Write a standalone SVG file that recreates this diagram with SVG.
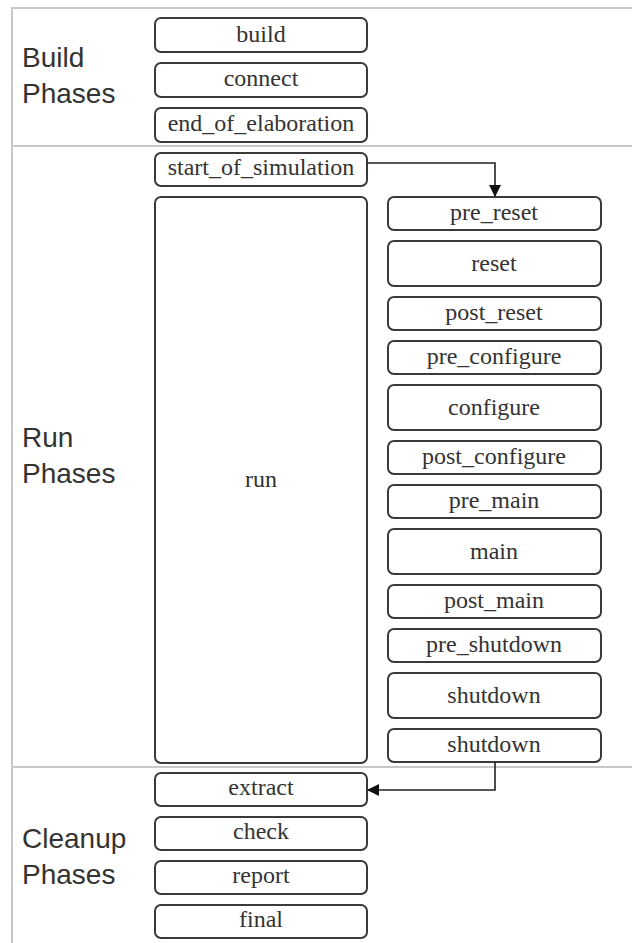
<svg xmlns="http://www.w3.org/2000/svg" width="632" height="943" viewBox="0 0 632 943">
  <style>
    .frame { fill: none; stroke: #c8c8c8; stroke-width: 2; }
    .box rect { fill: #ffffff; stroke: #3a3a3a; stroke-width: 2; }
    .box text { font-family: 'Liberation Serif', 'Times New Roman', serif; font-size: 24px; fill: #333333; text-anchor: middle; }
    .group-label { font-family: 'Liberation Sans', Arial, sans-serif; font-size: 28px; fill: #333333; }
    .conn { fill: none; stroke: #222222; stroke-width: 1.6; }
  </style>
  <defs>
    <marker id="arrow" viewBox="0 0 12 12" refX="11" refY="6" markerWidth="12" markerHeight="12" markerUnits="userSpaceOnUse" orient="auto">
      <path d="M0,0 L12,6 L0,12 Z" fill="#111111"/>
    </marker>
  </defs>

  <rect width="632" height="943" fill="#ffffff"/>

  <!-- section frame and separators -->
  <g id="frame">
    <line class="frame" x1="11" y1="8" x2="632" y2="8"/>
    <line class="frame" x1="12" y1="8" x2="12" y2="943"/>
    <line class="frame" x1="11" y1="146" x2="632" y2="146"/>
    <line class="frame" x1="11" y1="767" x2="632" y2="767"/>
  </g>

  <!-- section titles -->
  <g id="labels">
    <text class="group-label" x="22" y="67">Build</text>
    <text class="group-label" x="22" y="103">Phases</text>
    <text class="group-label" x="22" y="447">Run</text>
    <text class="group-label" x="22" y="483">Phases</text>
    <text class="group-label" x="22" y="848">Cleanup</text>
    <text class="group-label" x="22" y="884">Phases</text>
  </g>

  <!-- build phases -->
  <g id="build" class="box"><rect x="155" y="18" width="212" height="34" rx="6"/><text x="261" y="42">build</text></g>
  <g id="connect" class="box"><rect x="155" y="63" width="212" height="34" rx="6"/><text x="261" y="86">connect</text></g>
  <g id="end_of_elaboration" class="box"><rect x="155" y="108" width="212" height="34" rx="6"/><text x="261" y="131">end_of_elaboration</text></g>

  <!-- run phases -->
  <g id="start_of_simulation" class="box"><rect x="155" y="153" width="212" height="33" rx="6"/><text x="261" y="175">start_of_simulation</text></g>
  <g id="run" class="box"><rect x="155" y="197" width="212" height="566" rx="6"/><text x="261" y="487">run</text></g>

  <g id="pre_reset" class="box"><rect x="388" y="197" width="213" height="33" rx="6"/><text x="494" y="220">pre_reset</text></g>
  <g id="reset" class="box"><rect x="388" y="241" width="213" height="45" rx="6"/><text x="494" y="271">reset</text></g>
  <g id="post_reset" class="box"><rect x="388" y="297" width="213" height="33" rx="6"/><text x="494" y="320">post_reset</text></g>
  <g id="pre_configure" class="box"><rect x="388" y="341" width="213" height="33" rx="6"/><text x="494" y="364">pre_configure</text></g>
  <g id="configure" class="box"><rect x="388" y="385" width="213" height="45" rx="6"/><text x="494" y="415">configure</text></g>
  <g id="post_configure" class="box"><rect x="388" y="441" width="213" height="33" rx="6"/><text x="494" y="464">post_configure</text></g>
  <g id="pre_main" class="box"><rect x="388" y="485" width="213" height="33" rx="6"/><text x="494" y="508">pre_main</text></g>
  <g id="main" class="box"><rect x="388" y="529" width="213" height="45" rx="6"/><text x="494" y="559">main</text></g>
  <g id="post_main" class="box"><rect x="388" y="585" width="213" height="33" rx="6"/><text x="494" y="608">post_main</text></g>
  <g id="pre_shutdown" class="box"><rect x="388" y="629" width="213" height="33" rx="6"/><text x="494" y="652">pre_shutdown</text></g>
  <g id="shutdown" class="box"><rect x="388" y="673" width="213" height="45" rx="6"/><text x="494" y="703">shutdown</text></g>
  <g id="post_shutdown" class="box"><rect x="388" y="729" width="213" height="33" rx="6"/><text x="494" y="752">shutdown</text></g>

  <!-- cleanup phases -->
  <g id="extract" class="box"><rect x="155" y="773" width="212" height="33" rx="6"/><text x="261" y="795">extract</text></g>
  <g id="check" class="box"><rect x="155" y="817" width="212" height="33" rx="6"/><text x="261" y="839">check</text></g>
  <g id="report" class="box"><rect x="155" y="861" width="212" height="33" rx="6"/><text x="261" y="883">report</text></g>
  <g id="final" class="box"><rect x="155" y="905" width="212" height="33" rx="6"/><text x="261" y="927">final</text></g>

  <!-- connectors -->
  <g id="connectors">
    <polyline class="conn" points="367,163 495,163 495,196" marker-end="url(#arrow)"/>
    <polyline class="conn" points="495,762 495,790 368,790" marker-end="url(#arrow)"/>
  </g>
</svg>
